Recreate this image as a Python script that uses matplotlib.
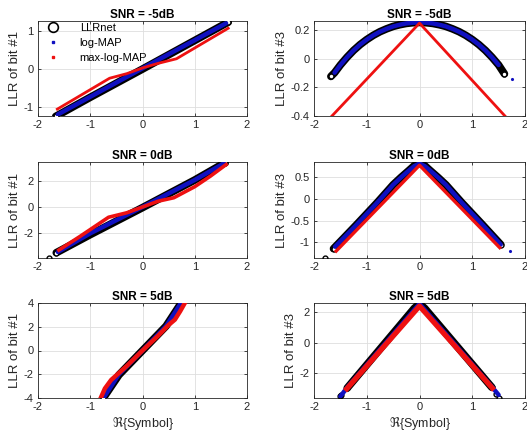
import matplotlib
matplotlib.use('Agg')
import matplotlib.pyplot as plt
from matplotlib.lines import Line2D

plt.rcParams['font.family'] = ['Liberation Sans', 'DejaVu Sans']
plt.rcParams['mathtext.fontset'] = 'dejavusans'
plt.rcParams['axes.unicode_minus'] = False

# ---- SNR = -5dB, bit #1
a_net_x = [-1.66, -1.0, 0.0, 1.0, 1.64]
a_net_y = [-1.25, -0.75, -0.01, 0.74, 1.22]
a_map_x = [-1.62, 0.0, 1.6]
a_map_y = [-1.2, 0.01, 1.19]
a_max_x = [-1.63, -0.63, -0.3, 0.0, 0.3, 0.65, 1.64]
a_max_y = [-1.06, -0.25, -0.13, 0.02, 0.14, 0.26, 1.06]

# ---- SNR = -5dB, bit #3
b_net_x = [-1.68, -1.61, -1.5, -1.375, -1.25, -1.125, -1.0, -0.875, -0.75, -0.625, -0.5,
           -0.375, -0.25, -0.125, 0.0, 0.125, 0.25, 0.375, 0.5, 0.625, 0.75, 0.875, 1.0,
           1.125, 1.25, 1.375, 1.5, 1.61]
b_net_y = [-0.123, -0.097, -0.043, 0.011, 0.059, 0.1, 0.135, 0.165, 0.19, 0.21, 0.227,
           0.239, 0.248, 0.253, 0.255, 0.253, 0.248, 0.239, 0.227, 0.21, 0.19, 0.165, 0.135,
           0.1, 0.059, 0.011, -0.043, -0.105]
b_map_x = b_net_x[1:-1]
b_map_y = b_net_y[1:-1]
b_map_out = ([1.75], [-0.144])
b_max_x = [-1.66, 0.0, 1.62]
b_max_y = [-0.4, 0.25, -0.4]

# ---- SNR = 0dB, bit #1
c_net_x = [-1.65, -1.0, 0.0, 1.0, 1.58]
c_net_y = [-3.56, -2.15, -0.05, 2.1, 3.45]
c_net_out = ([-1.78], [-3.95])
c_map_x = [-1.62, -1.0, 0.0, 1.0, 1.56]
c_map_y = [-3.5, -2.05, 0.0, 2.1, 3.4]
c_max_x = [-1.6, -1.2, -0.65, -0.3, 0.0, 0.3, 0.6, 1.0, 1.3, 1.6]
c_max_y = [-3.35, -2.3, -0.8, -0.45, 0.0, 0.45, 0.72, 1.58, 2.4, 3.3]

# ---- SNR = 0dB, bit #3
d_net_x = [-1.63, -1.2, -0.8, -0.5, -0.35, -0.2, -0.1, 0.0, 0.1, 0.2, 0.35, 0.5, 0.8, 1.2, 1.54]
d_net_y = [-1.145, -0.6, -0.08, 0.33, 0.5, 0.66, 0.77, 0.83, 0.77, 0.66, 0.5, 0.33, -0.08, -0.6, -1.05]
d_net_out = ([-1.79], [-1.36])
d_map_x = [-1.6, -1.2, -0.8, -0.5, -0.35, -0.2, -0.1, 0.0, 0.1, 0.2, 0.35, 0.5, 0.8, 1.2, 1.54]
d_map_y = [-1.1, -0.6, -0.08, 0.33, 0.5, 0.66, 0.76, 0.82, 0.76, 0.66, 0.5, 0.33, -0.08, -0.6, -1.05]
d_map_out = ([1.72], [-1.19])
d_max_x = [-1.58, 0.0, 1.52]
d_max_y = [-1.2, 0.78, -1.12]

# ---- SNR = 5dB, bit #1
e_net_x = [-0.75, -0.45, 0.0, 0.45, 0.74]
e_net_y = [-4.0, -2.05, 0.0, 2.05, 4.0]
e_map_x = [-0.74, -0.45, 0.0, 0.45, 0.73]
e_map_y = [-3.95, -2.0, 0.0, 2.05, 3.95]
e_max_x = [-0.8, -0.72, -0.6, -0.3, 0.0, 0.3, 0.5, 0.62, 0.72, 0.81]
e_max_y = [-4.0, -3.2, -2.48, -1.3, 0.0, 1.25, 2.15, 2.6, 3.3, 4.0]

# ---- SNR = 5dB, bit #3
f_net_x = [-1.37, -0.1, 0.0, 0.1, 1.37]
f_net_y = [-2.95, 2.25, 2.55, 2.25, -2.9]
f_net_out = ([-1.51, -1.48, 1.45, 1.51], [-3.49, -3.4, -3.32, -3.6])
f_map_x = [-1.5, -1.38, 0.0, 1.38, 1.5]
f_map_y = [-3.5, -2.95, 2.55, -2.9, -3.4]
f_max_x = [-1.38, 0.0, 1.38]
f_max_y = [-3.0, 2.4, -2.95]

titles = ['SNR = -5dB', 'SNR = -5dB', 'SNR = 0dB', 'SNR = 0dB', 'SNR = 5dB', 'SNR = 5dB']
ylabels = ['LLR of bit #1', 'LLR of bit #3'] * 3
ylims = [(-1.24, 1.25), (-0.4, 0.265), (-3.97, 3.5), (-1.36, 0.855), (-4, 4), (-3.6, 2.6)]
yticks = [[-1, 0, 1], [-0.4, -0.2, 0, 0.2], [-2, 0, 2], [-1, -0.5, 0, 0.5],
          [-4, -2, 0, 2, 4], [-2, 0, 2]]
red_widths = [2.0, 2.0, 2.6, 2.4, 3.2, 3.8]

panels = [
    (a_net_x, a_net_y, None, a_map_x, a_map_y, None, a_max_x, a_max_y),
    (b_net_x, b_net_y, None, b_map_x, b_map_y, b_map_out, b_max_x, b_max_y),
    (c_net_x, c_net_y, c_net_out, c_map_x, c_map_y, None, c_max_x, c_max_y),
    (d_net_x, d_net_y, d_net_out, d_map_x, d_map_y, d_map_out, d_max_x, d_max_y),
    (e_net_x, e_net_y, None, e_map_x, e_map_y, None, e_max_x, e_max_y),
    (f_net_x, f_net_y, f_net_out, f_map_x, f_map_y, None, f_max_x, f_max_y),
]

W, H = 527, 441
fig = plt.figure(figsize=(W / 100, H / 100), dpi=100)

# axes boxes in pixels
cols = [(38, 247), (314, 525)]
rows = [(21, 116), (162, 258), (303, 398)]

dark = '#262626'
for i, p in enumerate(panels):
    x0, x1 = cols[i % 2]
    y0, y1 = rows[i // 2]
    ax = fig.add_axes([x0 / W, 1 - y1 / H, (x1 - x0) / W, (y1 - y0) / H])
    nx, ny, nout, mx, my, mout, rx, ry = p

    ax.plot(nx, ny, color='black', lw=5.5, solid_capstyle='round',
            solid_joinstyle='round', zorder=3)
    ax.plot([nx[0], nx[-1]], [ny[0], ny[-1]], 'o', mfc='white', mec='black',
            ms=3.5, mew=1, zorder=3)
    if nout:
        ax.plot(nout[0], nout[1], 'o', mfc='none', mec='black', ms=3.5, mew=1, zorder=3)
    ax.plot(mx, my, color='#1010c0', lw=3.2, solid_capstyle='round',
            solid_joinstyle='round', zorder=4)
    if mout:
        ax.plot(mout[0], mout[1], '.', color='#1010c0', ms=2.5, zorder=4)
    ax.plot(rx, ry, color='#ee1111', lw=red_widths[i], solid_joinstyle='round', zorder=5)

    ax.set_xlim(-2, 2)
    ax.set_ylim(*ylims[i])
    ax.set_xticks([-2, -1, 0, 1, 2])
    ax.set_xticklabels(['-2', '-1', '0', '1', '2'])
    ax.set_yticks(yticks[i])
    ax.set_yticklabels([f'{v:g}' for v in yticks[i]])
    ax.grid(True, color='#dedede', lw=0.6)
    ax.set_axisbelow(True)
    ax.tick_params(direction='in', length=2, width=0.6, colors=dark, labelsize=8,
                   top=True, right=True, pad=3)
    for s in ax.spines.values():
        s.set_color(dark)
        s.set_linewidth(0.6)
    ax.set_title(titles[i], fontsize=8.5, fontweight='bold', pad=2)
    ax.set_ylabel(ylabels[i], fontsize=9.5, color=dark, labelpad=2)
    if i >= 4:
        ax.set_xlabel(r'$\Re${Symbol}', fontsize=9, color=dark, labelpad=2)

    if i == 0:
        handles = [
            Line2D([], [], ls='none', marker='o', mfc='none', mec='black', ms=7, mew=1.2),
            Line2D([], [], ls='none', marker='s', color='#1010c0', ms=2),
            Line2D([], [], ls='none', marker='s', color='#ee1111', ms=2),
        ]
        ax.legend(handles, ['LLRnet', 'log-MAP', 'max-log-MAP'], loc='upper left',
                  frameon=False, fontsize=8, borderaxespad=0.0, borderpad=0.15,
                  handletextpad=1.2, labelspacing=0.45, handlelength=2.4)

fig.savefig('out.png', dpi=100)
